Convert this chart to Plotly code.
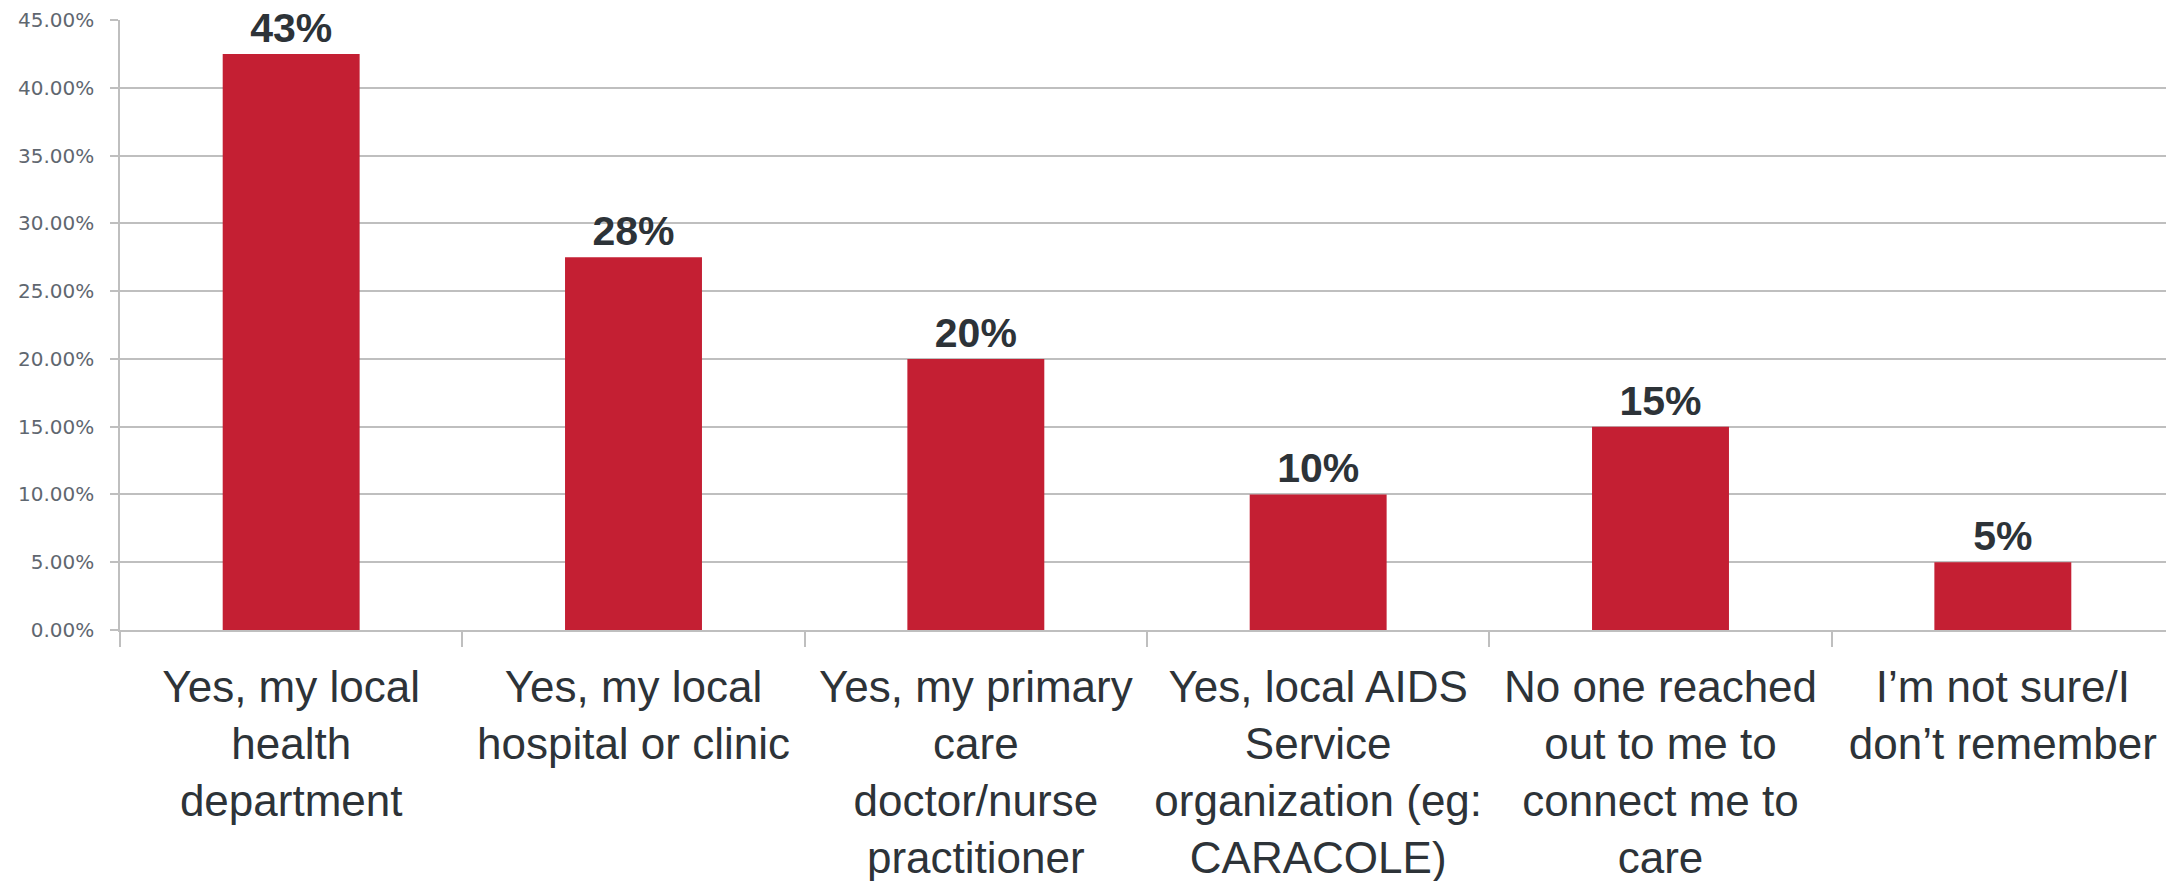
import plotly.graph_objects as go

categories = [
    "Yes, my local<br>health<br>department",
    "Yes, my local<br>hospital or clinic",
    "Yes, my primary<br>care<br>doctor/nurse<br>practitioner",
    "Yes, local AIDS<br>Service<br>organization (eg:<br>CARACOLE)",
    "No one reached<br>out to me to<br>connect me to<br>care",
    "I’m not sure/I<br>don’t remember",
]
values = [0.425, 0.275, 0.20, 0.10, 0.15, 0.05]
labels = ["43%", "28%", "20%", "10%", "15%", "5%"]
y_ticks = [0, 0.05, 0.10, 0.15, 0.20, 0.25, 0.30, 0.35, 0.40, 0.45]

fig = go.Figure(
    go.Bar(
        x=categories,
        y=values,
        text=labels,
        textposition="outside",
        cliponaxis=False,
        marker=dict(color="#c41f33", line=dict(width=0)),
        textfont=dict(family="Liberation Sans, Arial, sans-serif", size=41, color="#2d3338", weight="bold"),
    )
)

# page body has an 8px default margin; compensate so the plot area lands where the reference's does
fig.update_layout(
    width=2166,
    height=873,
    margin=dict(l=112, r=0, t=12, b=251, autoexpand=False),
    paper_bgcolor="white",
    plot_bgcolor="white",
    bargap=0.6,
    showlegend=False,
)

fig.update_yaxes(
    range=[0, 0.45],
    tickvals=y_ticks,
    tickformat=".2%",
    showgrid=True,
    gridcolor="#bfbfbf",
    gridwidth=1.5,
    showline=True,
    linecolor="#bfbfbf",
    linewidth=1.5,
    ticks="outside",
    ticklen=8,
    tickcolor="#bfbfbf",
    tickwidth=1.5,
    ticklabelstandoff=12,
    tickfont=dict(family="DejaVu Sans, Verdana, sans-serif", size=20, color="#5f6770"),
    zeroline=False,
    automargin=False,
)

fig.update_xaxes(
    showgrid=False,
    showline=True,
    linecolor="#bfbfbf",
    linewidth=1.5,
    ticks="outside",
    tickson="boundaries",
    ticklen=15,
    tickcolor="#bfbfbf",
    tickwidth=1.5,
    ticklabelstandoff=17,
    tickfont=dict(family="Liberation Sans Narrow, Arial Narrow, Liberation Sans, sans-serif", size=44, color="#2d3338"),
    tickangle=0,
    automargin=False,
)

fig.write_html("out.html")
